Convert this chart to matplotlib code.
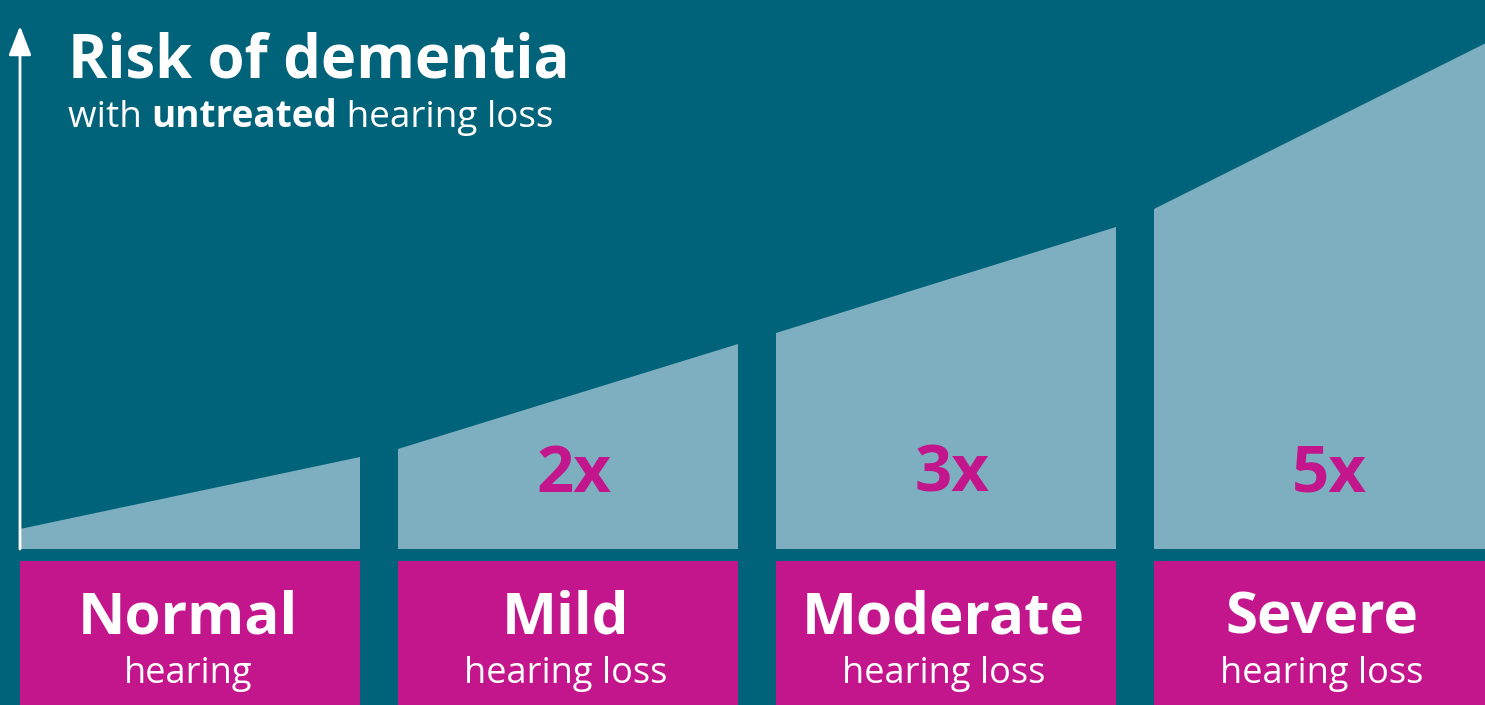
import matplotlib
matplotlib.use("Agg")
import matplotlib.pyplot as plt
from matplotlib.patches import Polygon

# ---- data ----
categories = ["Normal", "Mild", "Moderate", "Severe"]
sublabels = ["hearing", "hearing loss", "hearing loss", "hearing loss"]
multipliers = ["", "2x", "3x", "5x"]
risk_start = [20, 100, 216, 340]   # relative risk level at left edge of each panel
risk_end = [92, 205, 322, 510]     # relative risk level at right edge of each panel

BG = "#006379"
LIGHT = "#7eafc0"
MAG = "#c4168c"
FONT = "Open Sans"

W, H = 1485, 705
fig = plt.figure(figsize=(W / 100, H / 100), dpi=100, facecolor=BG)
ax = fig.add_axes([0, 0, 1, 1])
ax.set_facecolor(BG)
pitch = 378.0
half = 170.0 / pitch
ax.set_xlim(-190 / pitch, (W - 190) / pitch)
ax.set_ylim(-156, 549)
ax.axis("off")

for i, cat in enumerate(categories):
    x0, x1 = i - half, i + half
    poly = Polygon([(x0, 0), (x0, risk_start[i]), (x1, risk_end[i]), (x1, 0)],
                   closed=True, facecolor=LIGHT, edgecolor="none", zorder=1)
    ax.add_patch(poly)
    ax.bar(i, 170, bottom=-182, width=2 * half, color=MAG, zorder=1)
    ax.text(i - 0.006, -85, cat, ha="center", va="baseline", color="white",
            fontsize=42, fontweight="bold", family=FONT)
    ax.text(i - 0.006, -134, sublabels[i], ha="center", va="baseline", color="white",
            fontsize=26, fontweight="normal", family=FONT)
    if multipliers[i]:
        ax.text(i + 0.015, 57, multipliers[i], ha="center", va="baseline",
                color=MAG, fontsize=47, fontweight="bold", family=FONT)

# y-axis arrow
ax.annotate("", xy=(-half, 523), xytext=(-half, 0),
            arrowprops=dict(arrowstyle="-|>,head_length=0.9,head_width=0.35",
                            color="white", lw=2, shrinkA=0, shrinkB=0,
                            mutation_scale=20), zorder=3)

# title
fig.text(68 / W, 1 - 78 / H, "Risk of dementia", ha="left", va="baseline",
         color="white", fontsize=43, fontweight="bold", family=FONT)

# subtitle with mixed weights
fig.canvas.draw()
r = fig.canvas.get_renderer()
parts = [("with ", "normal"), ("untreated", "bold"), (" hearing loss", "normal")]
xpx = 68
for txt, wt in parts:
    t = fig.text(xpx / W, 1 - 127 / H, txt, ha="left", va="baseline",
                 color="white", fontsize=26.6, fontweight=wt, family=FONT)
    bb = t.get_window_extent(renderer=r)
    xpx += bb.width

fig.savefig("out.png", dpi=100, facecolor=BG)
